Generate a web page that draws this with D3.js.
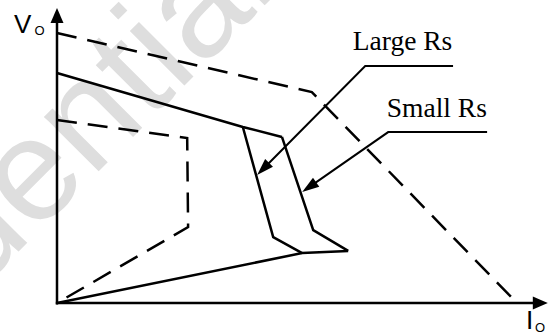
<!DOCTYPE html>
<html lang="en">
<head>
    <meta charset="UTF-8">
    <title>Vo - Io characteristic</title>
    <script src="https://d3js.org/d3.v7.min.js"></script>
    <style>
        body {
            margin: 0;
            background: #fff;
        }

        .curve {
            fill: none;
            stroke: #000;
            stroke-width: 2.5px;
            stroke-linejoin: miter;
        }

        .dashed {
            stroke-dasharray: 20 11;
        }

        .axis-line {
            stroke: #000;
            stroke-width: 2.5px;
        }

        .leader {
            fill: none;
            stroke: #000;
            stroke-width: 2px;
        }

        .note {
            font-family: "Liberation Serif", "Times New Roman", serif;
            font-size: 27.5px;
            fill: #000;
        }

        .axis-name {
            font-family: "Liberation Sans", Arial, sans-serif;
            fill: #000;
        }

        .watermark {
            font-family: "Liberation Sans", Arial, sans-serif;
            font-size: 146px;
            fill: #dedede;
        }
    </style>
</head>
<body>
<div id="chart"></div>

<script>
    // curves in relative units: Io 0..100 (short circuit), Vo 0..100 (open circuit)
    var upperLimit = [{i: 0, v: 100}, {i: 55.4, v: 78.1}, {i: 100, v: 0}];
    var lowerLimit = [{i: 0, v: 67.8}, {i: 28.3, v: 61.1}, {i: 28.5, v: 28.1}, {i: 0, v: 0}];
    var topCurve = [{i: 0, v: 85.2}, {i: 40.4, v: 65.2}, {i: 48.9, v: 61.5}];
    var largeRs = [{i: 40.4, v: 65.2}, {i: 47, v: 24.4}, {i: 53.3, v: 18.5}];
    var smallRs = [{i: 48.9, v: 61.5}, {i: 55.7, v: 27}, {i: 63.3, v: 19.3}];
    var bottomCurve = [{i: 0, v: 0}, {i: 53.3, v: 18.5}, {i: 63.3, v: 19.3}];

    var noteLabels = ["Large Rs", "Small Rs"];
    var noteTextAt = [{i: 64.3, v: 93.7}, {i: 71.7, v: 68.9}];
    var noteLeaders = [
        [{i: 86.1, v: 87.8}, {i: 67, v: 87.8}, {i: 43.5, v: 47.4}],
        [{i: 93.5, v: 63.3}, {i: 72, v: 63.3}, {i: 53.3, v: 41.1}]
    ];

    var axisEnd = {i: 106.7, v: 109.3};

    function init() {
        var w = 550;
        var h = 333;

        var xScale = d3.scaleLinear().domain([0, 100]).range([57, 517]);
        var yScale = d3.scaleLinear().domain([0, 100]).range([303, 33]);

        var svg = d3.select("#chart")
            .append("svg")
            .attr("width", w)
            .attr("height", h);

        // watermark
        var wm = svg.append("text")
            .attr("class", "watermark")
            .attr("transform", "translate(34,236) rotate(-45)")
            .text("Confidential");
        var off = wm.node().getSubStringLength(0, 6);
        wm.attr("x", -off);

        var line = d3.line()
            .x(function(d) { return xScale(d.i); })
            .y(function(d) { return yScale(d.v); });

        function arrowHead(x1, y1, x2, y2, len, wid) {
            var a = Math.atan2(y2 - y1, x2 - x1);
            var bx = x2 - len * Math.cos(a), by = y2 - len * Math.sin(a);
            var nx = -Math.sin(a) * wid / 2, ny = Math.cos(a) * wid / 2;
            return "M" + x2 + "," + y2 + "L" + (bx + nx) + "," + (by + ny) +
                "L" + (bx - nx) + "," + (by - ny) + "Z";
        }

        // axes
        var ox = xScale(0), oy = yScale(0);
        var yTop = yScale(axisEnd.v), xRight = xScale(axisEnd.i);
        svg.append("line").attr("class", "axis-line")
            .attr("x1", ox).attr("y1", oy + 1.5).attr("x2", ox).attr("y2", yTop + 8);
        svg.append("path").attr("d", arrowHead(ox, oy, ox, yTop, 15, 13));
        svg.append("line").attr("class", "axis-line")
            .attr("x1", ox - 1.2).attr("y1", oy).attr("x2", xRight - 8).attr("y2", oy);
        svg.append("path").attr("d", arrowHead(ox, oy, xRight, oy, 15, 13));

        // axis names
        svg.append("text").attr("class", "axis-name")
            .attr("x", 14).attr("y", 33).style("font-size", "26px").text("V");
        svg.append("text").attr("class", "axis-name")
            .attr("x", 34.5).attr("y", 35).style("font-size", "13px").text("O");
        svg.append("text").attr("class", "axis-name")
            .attr("x", 526).attr("y", 329).style("font-size", "26px").text("I");
        svg.append("text").attr("class", "axis-name")
            .attr("x", 535).attr("y", 332).style("font-size", "13px").text("O");

        // dashed limits
        [upperLimit, lowerLimit].forEach(function(c) {
            svg.append("path").datum(c)
                .attr("class", "curve dashed")
                .attr("d", line);
        });

        // solid curves
        [topCurve, largeRs, smallRs, bottomCurve].forEach(function(c) {
            svg.append("path").datum(c)
                .attr("class", "curve")
                .attr("d", line);
        });

        // notes with leader arrows
        noteLabels.forEach(function(lbl, k) {
            var pts = noteLeaders[k];
            var n = pts.length;
            var px = xScale(pts[n - 2].i), py = yScale(pts[n - 2].v);
            var tx = xScale(pts[n - 1].i), ty = yScale(pts[n - 1].v);
            var a = Math.atan2(ty - py, tx - px);
            var shortened = pts.slice(0, n - 1).map(function(p) {
                return [xScale(p.i), yScale(p.v)];
            });
            shortened.push([tx - 12 * Math.cos(a), ty - 12 * Math.sin(a)]);
            svg.append("path")
                .attr("class", "leader")
                .attr("d", d3.line()(shortened));
            svg.append("path")
                .attr("d", arrowHead(px, py, tx, ty, 17, 11));
            svg.append("text")
                .attr("class", "note")
                .attr("x", xScale(noteTextAt[k].i))
                .attr("y", yScale(noteTextAt[k].v))
                .text(lbl);
        });
    }

    init();
</script>
</body>
</html>
